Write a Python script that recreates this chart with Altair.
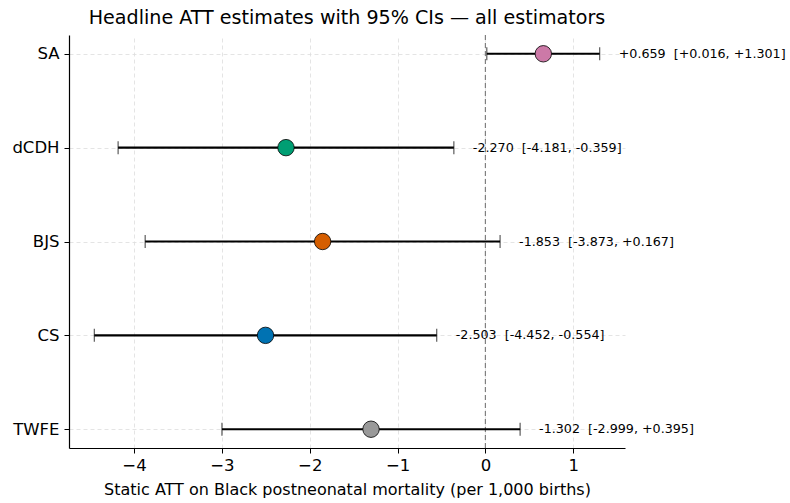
import altair as alt
import pandas as pd

estimators = ["SA", "dCDH", "BJS", "CS", "TWFE"]
att = [0.659, -2.270, -1.853, -2.503, -1.302]
ci_lo = [0.016, -4.181, -3.873, -4.452, -2.999]
ci_hi = [1.301, -0.359, 0.167, -0.554, 0.395]
colors = ["#CC79A7", "#009E73", "#D55E00", "#0072B2", "#999999"]
x_ticks = [-4, -3, -2, -1, 0, 1]

df = pd.DataFrame({
    "est": estimators,
    "att": att,
    "lo": ci_lo,
    "hi": ci_hi,
    "color": colors,
})
NB = "\u00a0"
df["label"] = [f"{a:+.3f}{NB}{NB}[{l:+.3f},{NB}{h:+.3f}]" for a, l, h in zip(att, ci_lo, ci_hi)]

FONT = "DejaVu Sans"
xscale = alt.Scale(domain=[-4.74, 1.589], nice=False, zero=False)
yscale = alt.Scale(type="point", domain=estimators, padding=0.2)

xenc = alt.X("lo:Q", scale=xscale, axis=alt.Axis(
    values=x_ticks, format="d", title="Static ATT on Black postneonatal mortality (per 1,000 births)",
    grid=True, gridDash=[4, 3], gridColor="#dddddd", gridWidth=0.8,
    domainColor="black", domainWidth=1.2, tickColor="black", tickSize=5, tickWidth=1,
    labelFontSize=16.5, labelColor="black", labelFont=FONT, labelPadding=4,
    titleFontSize=16, titleFont=FONT, titleFontWeight="normal", titleColor="black", titlePadding=8,
    labelExpr="replace(datum.label, '-', '−')"))
yenc = alt.Y("est:N", scale=yscale, sort=estimators, axis=alt.Axis(
    title=None, grid=True, gridDash=[4, 3], gridColor="#dddddd", gridWidth=0.8,
    domainColor="black", domainWidth=1.2, tickColor="black", tickSize=5, tickWidth=1,
    labelFontSize=16.5, labelColor="black", labelFont=FONT, labelPadding=5))

base = alt.Chart(df)

zero = alt.Chart(pd.DataFrame({"z": [0]})).mark_rule(
    color="#808080", strokeDash=[5, 3], strokeWidth=1.2
).encode(x=alt.X("z:Q", scale=xscale))

bars = base.mark_rule(color="black", strokeWidth=2.2).encode(
    x=xenc, x2="hi:Q", y=yenc)

cap_lo = base.mark_tick(color="black", size=13, thickness=1.1).encode(
    x=alt.X("lo:Q", scale=xscale), y=alt.Y("est:N", scale=yscale, sort=estimators))
cap_hi = base.mark_tick(color="black", size=13, thickness=1.1).encode(
    x=alt.X("hi:Q", scale=xscale), y=alt.Y("est:N", scale=yscale, sort=estimators))

pts = base.mark_point(filled=True, size=270, opacity=1, stroke="black", strokeWidth=0.8).encode(
    x=alt.X("att:Q", scale=xscale), y=alt.Y("est:N", scale=yscale, sort=estimators),
    fill=alt.Fill("color:N", scale=None))

txt = base.mark_text(align="left", baseline="middle", dx=19, fontSize=12.7, font=FONT, color="black").encode(
    x=alt.X("hi:Q", scale=xscale), y=alt.Y("est:N", scale=yscale, sort=estimators), text="label:N")

chart = alt.layer(zero, bars, cap_lo, cap_hi, pts, txt).properties(
    width=556, height=413,
    background="white",
    title=alt.TitleParams("Headline ATT estimates with 95% CIs — all estimators",
                          fontSize=19.1, font=FONT, fontWeight="normal", color="black", offset=6),
    autosize=alt.AutoSizeParams(type="none"),
    padding={"left": 69, "top": 35, "right": 165, "bottom": 55},
).configure_view(stroke=None)

chart.save("out.html", embed_options={"renderer": "svg", "actions": False})
